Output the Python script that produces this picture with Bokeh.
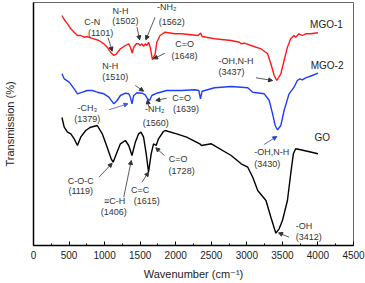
from bokeh.plotting import figure
from bokeh.models import Arrow, NormalHead, SingleIntervalTicker, FixedTicker, Range1d, ColumnDataSource
from bokeh.core.properties import value
from bokeh.embed import file_html
from bokeh.resources import INLINE

# ---- data (wavenumber cm-1, transmission arbitrary units with offsets) ----
go_wn = [400, 432, 478, 525, 572, 618, 664, 734, 804, 897, 967, 1036, 1092, 1120, 1166, 1222, 1292, 1339,
         1385, 1432, 1478, 1511, 1548, 1585, 1618, 1655, 1688, 1725, 1758, 1827, 1850, 2013, 2153, 2338,
         2362, 2501, 2780, 2920, 3013, 3083, 3153, 3269, 3338, 3408, 3454, 3501, 3571, 3617, 3654, 3687,
         3757, 3850, 4000]
go_t = [128, 118.3, 113.3, 111.7, 106.7, 100, 108.3, 115, 118.3, 120, 111.7, 98.3, 86.7, 83.3, 91.7, 101.7,
        105, 100, 90, 103.3, 111.7, 113.3, 108.3, 91.7, 73.3, 91.7, 101.7, 100, 106.7, 114, 115, 111.7,
        108.3, 101.7, 100, 101.7, 90, 81.7, 78.3, 68.3, 55, 45, 28.3, 12.3, 16.7, 25, 45, 71.7, 91.7,
        96.7, 95.7, 94.3, 91.7]

mgo1_wn = [400, 432, 478, 525, 572, 618, 664, 711, 757, 804, 850, 920, 990, 1036, 1083, 1130, 1166, 1222,
           1292, 1339, 1362, 1390, 1409, 1446, 1478, 1502, 1525, 1548, 1571, 1594, 1618, 1641, 1673, 1711,
           1734, 1780, 1850, 1990, 2083, 2316, 2338, 2352, 2371, 2547, 2780, 2896, 2920, 2966, 3059, 3199,
           3292, 3338, 3385, 3422, 3478, 3524, 3571, 3617, 3664, 3687, 3733, 3780, 3827, 3896, 4000]
mgo1_t = [230, 226, 221.7, 216.7, 213.3, 210, 210, 208.3, 209, 207.7, 206.7, 205, 201.7, 198.3, 193.3, 190,
          191.7, 196.7, 200, 201.7, 198.3, 192.3, 198.3, 201.7, 201.7, 200, 201.7, 199, 201.7, 200, 203.3,
          198.3, 185.7, 191.7, 203.3, 210, 213.3, 211.7, 211.7, 210, 211.7, 212.3, 209, 206.7, 205, 203.3,
          201.7, 202.3, 200, 196.7, 191.7, 181.7, 170, 165, 171.7, 185, 198.3, 206.7, 210, 208.3, 211.7,
          210, 211.7, 211.7, 212.7]

mgo2_wn = [400, 432, 502, 572, 618, 688, 757, 827, 897, 990, 1060, 1130, 1176, 1222, 1292, 1339, 1362, 1385,
           1409, 1455, 1525, 1571, 1604, 1632, 1664, 1734, 1873, 2083, 2269, 2325, 2348, 2371, 2547, 2780,
           3013, 3083, 3245, 3315, 3362, 3399, 3432, 3478, 3524, 3594, 3664, 3710, 3747, 3780, 3827, 3920,
           4000]
mgo2_t = [171.7, 166.7, 163.3, 156.7, 151.7, 153.3, 155, 155, 153.3, 151.7, 148.3, 141.7, 145, 150, 152.3,
          151.7, 148.3, 141.7, 150, 152.7, 152.3, 150.7, 146.7, 145, 150, 152.3, 155, 155, 155.7, 155,
          146.7, 154.3, 157.7, 159, 157.7, 153.3, 151.7, 145, 131.7, 120, 115.7, 120, 135, 151.7, 158.3,
          165, 166.7, 165.7, 167.7, 170, 172.3]

x_ticks_step = 500
series_names = ["MGO-1", "MGO-2", "GO"]

# ---- peak annotations: text, x, y, align ----
ann_text = ["C-N", "(1101)", "N-H", "(1502)", "-NH₂", "(1562)", "C=O", "(1648)", "-OH,N-H", "(3437)",
            "N-H", "(1510)", "-CH₃", "(1379)", "-NH₂", "(1560)", "C=O", "(1639)", "-OH,N-H", "(3430)",
            "C-O-C", "(1119)", "≡C-H", "(1406)", "C=C", "(1615)", "C=O", "(1728)", "-OH", "(3412)"]
ann_x = [827, 943, 1222, 1292, 1873, 1943, 2125, 2125, 2600, 2600,
         967, 967, 757, 757, 1706, 1720, 2083, 2145, 3105, 3105,
         664, 664, 1141, 1130, 1501, 1594, 2034, 2083, 3687, 3687]
ann_y = [223.3, 212.7, 235, 224.3, 238.3, 223.3, 202, 190, 185, 174,
         180, 168.3, 137.7, 126.7, 136.7, 122.3, 148, 137, 93.3, 81.7,
         65, 54.3, 44.3, 33.3, 55.7, 44.3, 87, 75, 20, 9]
ann_align = ["center"] * 8 + ["left"] * 2 + ["left"] * 2 + ["center"] * 6 + ["left"] * 2 + \
            ["center"] * 8 + ["left"] * 2

arrows = [  # x0, y0, x1, y1
    (1050, 207.7, 1106, 194.3), (1455, 218.3, 1493, 205.7), (1710, 228.3, 1580, 205.7),
    (1850, 192.3, 1688, 186.7), (3129, 167.7, 3362, 165),
    (1431, 160, 1548, 154.3), (1060, 135.7, 1329, 141.7), (1618, 139, 1604, 145.7),
    (1873, 147.3, 1720, 145), (3241, 101, 3422, 109),
    (921, 68.3, 1106, 82.3), (1269, 48.3, 1375, 85), (1525, 63.3, 1618, 73.3),
    (1841, 90, 1720, 97.7), (3594, 8.3, 3446, 12.7),
]
arrow_colors = ["#333333"] * 6 + ["#4a5adb"] + ["#333333"] * 2 + ["#3344cc"] + ["#333333"] * 5

name_x = [4120, 4129, 4060]
name_y = [221, 180, 108.3]

FONT = "Liberation Sans"

p = figure(width=365, height=283, output_backend="svg", toolbar_location=None,
           x_range=Range1d(0, 4500), y_range=Range1d(0, 243),
           min_border_left=31, min_border_right=12, min_border_top=2, min_border_bottom=38)
p.grid.visible = False
p.outline_line_color = "#666666"
p.outline_line_width = 1
p.background_fill_color = "white"

p.line(mgo1_wn, mgo1_t, line_color="#ff1a1a", line_width=1.4)
p.line(mgo2_wn, mgo2_t, line_color="#1f3dff", line_width=1.4)
p.line(go_wn, go_t, line_color="#000000", line_width=1.4)

src = ColumnDataSource(dict(text=ann_text, x=ann_x, y=ann_y, align=ann_align))
p.text(x="x", y="y", text="text", source=src, text_align="align", text_baseline="middle",
       text_font=value(FONT), text_font_size="9px", text_color="#333333")

nsrc = ColumnDataSource(dict(text=series_names, x=name_x, y=name_y))
p.text(x="x", y="y", text="text", source=nsrc, text_align="center", text_baseline="middle",
       text_font=value(FONT), text_font_size="10px", text_color="#222222")

for (x0, y0, x1, y1), c in zip(arrows, arrow_colors):
    p.add_layout(Arrow(x_start=x0, y_start=y0, x_end=x1, y_end=y1, line_color=c, line_width=0.8,
                       end=NormalHead(size=4, fill_color=c, line_color=c)))

xa = p.xaxis[0]
xa.ticker = SingleIntervalTicker(interval=x_ticks_step, num_minor_ticks=2)
xa.axis_label = "Wavenumber (cm⁻¹)"
xa.axis_label_text_font = "Liberation Sans, DejaVu Sans"
xa.axis_label_text_font_style = "normal"
xa.axis_label_text_font_size = "11px"
xa.axis_label_text_color = "#222222"
xa.axis_label_standoff = 6
xa.major_label_text_font = FONT
xa.major_label_text_font_size = "10px"
xa.major_label_text_color = "#222222"
xa.major_label_standoff = 5
xa.axis_line_color = "black"
xa.axis_line_width = 1.5
xa.major_tick_in = 4
xa.major_tick_out = 0
xa.minor_tick_in = 2
xa.minor_tick_out = 0
xa.major_tick_line_color = "black"
xa.minor_tick_line_color = "black"

ya = p.yaxis[0]
ya.ticker = FixedTicker(ticks=[])
ya.major_label_text_font_size = "0px"
ya.major_tick_line_color = None
ya.minor_tick_line_color = None
ya.axis_line_color = "black"
ya.axis_line_width = 1.5
ya.axis_label = "Transmission (%)"
ya.axis_label_text_font = FONT
ya.axis_label_text_font_style = "normal"
ya.axis_label_text_font_size = "11px"
ya.axis_label_text_color = "#222222"
ya.axis_label_standoff = 18

open("out.html", "w").write(file_html(p, INLINE))
